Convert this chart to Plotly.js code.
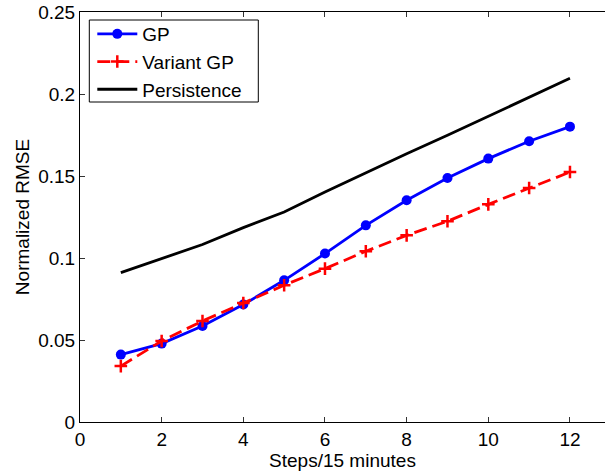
<!DOCTYPE html>
<html>
<head>
<meta charset="utf-8">
<script src="https://cdn.plot.ly/plotly-3.0.1.min.js"></script>
<style>html,body{margin:0;padding:0;background:#fff;}#chart{width:605px;height:476px;}</style>
</head>
<body>
<div id="chart"></div>
<script>
const steps = [1,2,3,4,5,6,7,8,9,10,11,12];
const gp = [0.0411,0.0478,0.0585,0.0716,0.0864,0.1027,0.1199,0.1352,0.1488,0.1606,0.1712,0.1801];
const variantGP = [0.0341,0.0494,0.0616,0.0726,0.0834,0.0935,0.1041,0.1138,0.1224,0.1327,0.1427,0.1524];
const persistence = [0.0911,0.0996,0.1082,0.1185,0.1280,0.1402,0.1520,0.1636,0.1748,0.1864,0.1982,0.2096];
const yTickVals = [0,0.05,0.1,0.15,0.2,0.25];
const yTickText = ['0','0.05','0.1','0.15','0.2','0.25'];
const xTickVals = [0,2,4,6,8,10,12];
const xTickText = ['0','2','4','6','8','10','12'];

const FONT = 'Liberation Sans, Arial, Helvetica, sans-serif';

const traces = [
  {x: steps, y: gp, name: 'GP', type: 'scatter', mode: 'lines+markers',
   line: {color: '#0000ff', width: 2.8},
   marker: {symbol: 'circle', size: 10, color: '#0000ff'}},
  {x: steps, y: variantGP, name: 'Variant GP', type: 'scatter', mode: 'lines+markers',
   line: {color: '#ff0000', width: 2.8, dash: '13px,6px'},
   marker: {symbol: 'cross-thin', size: 9, color: '#ff0000', line: {color: '#ff0000', width: 2.5}}},
  {x: steps, y: persistence, name: 'Persistence', type: 'scatter', mode: 'lines',
   line: {color: '#000000', width: 2.8}}
];

const layout = {
  width: 605, height: 476,
  margin: {l: 80, r: 0, t: 12, b: 54, pad: 0},
  paper_bgcolor: '#fff', plot_bgcolor: '#fff',
  font: {family: FONT, size: 19, color: '#000'},
  showlegend: true,
  legend: {x: 12.3/525, y: (422-15)/410, xanchor: 'left', yanchor: 'top',
           bgcolor: 'rgba(0,0,0,0)', borderwidth: 0, itemwidth: 40,
           font: {family: FONT, size: 19, color: '#000'}},
  shapes: [{type: 'rect', xref: 'paper', yref: 'paper',
            x0: 9.3/525, x1: 178.3/525, y0: (422-102)/410, y1: (422-20)/410,
            line: {color: '#000', width: 1}, fillcolor: '#fff', layer: 'below'}],
  xaxis: {range: [0, 12.858], tickvals: xTickVals, ticktext: xTickText,
          ticks: 'inside', ticklen: 5, tickwidth: 1, tickcolor: '#333',
          showline: true, linecolor: '#000', linewidth: 1, mirror: 'ticks',
          showgrid: false, zeroline: false,
          tickfont: {family: FONT, size: 19, color: '#000'},
          title: {text: 'Steps/15 minutes', font: {family: FONT, size: 19, color: '#000'}, standoff: 0}},
  yaxis: {range: [0, 0.25], tickvals: yTickVals, ticktext: yTickText,
          ticks: 'inside', ticklen: 5, tickwidth: 1, tickcolor: '#333',
          showline: true, linecolor: '#000', linewidth: 1, mirror: false,
          showgrid: false, zeroline: false,
          tickfont: {family: FONT, size: 19, color: '#000'},
          title: {text: 'Normalized RMSE', font: {family: FONT, size: 19, color: '#000'}, standoff: 3}}
};

Plotly.newPlot('chart', traces, layout, {displayModeBar: false, staticPlot: true});
</script>
</body>
</html>
